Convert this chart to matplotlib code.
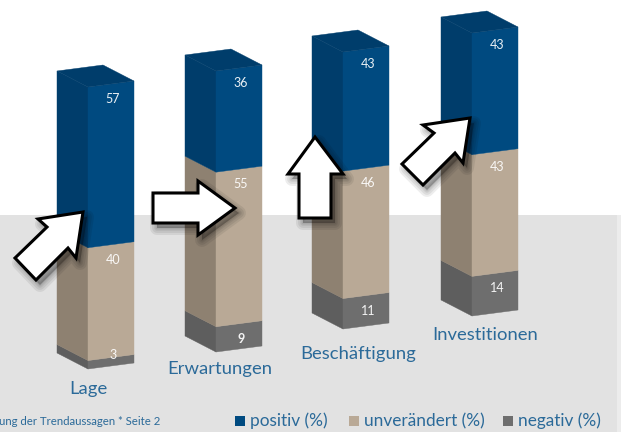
import matplotlib
matplotlib.use("Agg")
import matplotlib.pyplot as plt
from matplotlib.patches import Polygon, Rectangle

plt.rcParams["font.family"] = ["Lato", "DejaVu Sans"]

# Data
categories = ["Lage", "Erwartungen", "Beschäftigung", "Investitionen"]
positiv = [57, 36, 43, 43]
unveraendert = [40, 55, 46, 43]
negativ = [3, 9, 11, 14]
legend_labels = ["positiv (%)", "unverändert (%)", "negativ (%)"]
footnote = "ung der Trendaussagen * Seite 2"

# Layout in pixels of the picture (y goes down)
front_x = [88, 216, 343, 472]
base_y = [369, 352, 329, 316]
px_per_unit = [2.82, 2.81, 2.77, 2.83]
label_pos = [(88, 389), (220, 369), (358, 354), (485, 335)]
DX_LEFT, DY_LEFT = -31, -16
DX_RIGHT, DY_RIGHT = 46, -6

# (right face, left face)
seg_colors = [("#004a80", "#003d6b"), ("#b9a996", "#8e8171"), ("#6e6e6e", "#5e5e5e")]
top_color = "#003d6b"
text_blue = "#2b6a99"

# Arrows are annotations, not data
arrows = [
    [(83, 212), (38, 219), (47, 227), (15, 258), (36, 280), (68, 248), (76, 258)],
    [(235, 208), (198, 181), (198, 193), (153, 193), (153, 223), (198, 223), (198, 235)],
    [(315, 137), (288, 174), (299, 174), (299, 218), (331, 218), (331, 174), (343, 174)],
    [(470, 118), (423, 125), (434, 133), (402, 164), (423, 185), (455, 153), (463, 163)],
]

fig = plt.figure(figsize=(6.21, 4.32), dpi=100)
ax = fig.add_axes([0, 0, 1, 1])
ax.set_xlim(0, 621)
ax.set_ylim(432, 0)
ax.axis("off")

ax.add_patch(Rectangle((0, 215), 621, 217, color="#e2e2e2", lw=0))
ax.add_patch(Rectangle((617, 215), 4, 217, color="#ececec", lw=0))

for i, name in enumerate(categories):
    x = front_x[i]
    y = base_y[i]
    u = px_per_unit[i]
    values = [negativ[i], unveraendert[i], positiv[i]]
    colors = [seg_colors[2], seg_colors[1], seg_colors[0]]
    for v, (c_right, c_left) in zip(values, colors):
        top = y - v * u
        ax.add_patch(Polygon([(x, y), (x, top), (x + DX_LEFT, top + DY_LEFT), (x + DX_LEFT, y + DY_LEFT)],
                             closed=True, fc=c_left, ec=c_left, lw=0.3))
        ax.add_patch(Polygon([(x, y), (x, top), (x + DX_RIGHT, top + DY_RIGHT), (x + DX_RIGHT, y + DY_RIGHT)],
                             closed=True, fc=c_right, ec=c_right, lw=0.3))
        if v < 5:
            label_y = top - 6
        else:
            label_y = top + 12
        ax.text(x + 25, label_y, str(v), color="white", fontsize=9, ha="center", va="center",
                alpha=0.92, fontweight="bold" if v == 9 else "normal", zorder=4)
        y = top
    # top face sits behind the front edge of the blue block
    ax.add_patch(Polygon([(x, y), (x + DX_LEFT, y + DY_LEFT), (x + DX_LEFT + DX_RIGHT, y + DY_LEFT + DY_RIGHT),
                          (x + DX_RIGHT, y + DY_RIGHT)], closed=True, fc=top_color, ec=top_color, lw=0.3))
    ax.text(label_pos[i][0], label_pos[i][1], name, color=text_blue, fontsize=13.3, ha="center", va="center")

# soft shadow built from a few wide translucent strokes, then the arrow
for pts in arrows:
    shifted = [(px + 4, py + 5) for px, py in pts]
    for lw in [10, 7, 4, 2]:
        ax.add_patch(Polygon(shifted, closed=True, fc="black", ec="black", lw=lw, alpha=0.07,
                             joinstyle="round", zorder=5))
    ax.add_patch(Polygon(pts, closed=True, fc="white", ec="black", lw=2.2, joinstyle="miter", zorder=6))

ax.text(-1, 421.5, footnote, color=text_blue, fontsize=8.2, ha="left", va="center")

leg_x = [235, 349, 503]
leg_colors = [seg_colors[0][0], seg_colors[1][0], seg_colors[2][0]]
for lx, lab, col in zip(leg_x, legend_labels, leg_colors):
    ax.add_patch(Rectangle((lx, 416), 10, 10, color=col, lw=0))
    ax.text(lx + 15, 421, lab, color=text_blue, fontsize=12.4, ha="left", va="center")

fig.savefig("out.png", dpi=100)
